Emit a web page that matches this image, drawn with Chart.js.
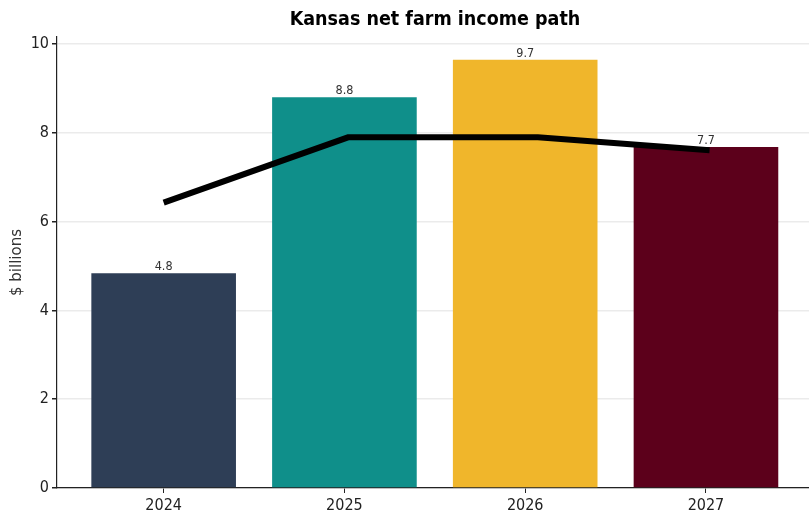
<!DOCTYPE html>
<html>
<head>
<meta charset="utf-8">
<script src="https://cdn.jsdelivr.net/npm/chart.js@4.4.1/dist/chart.umd.min.js"></script>
<style>
  html, body { margin: 0; padding: 0; background: #fff; }
  #wrap { width: 809px; height: 516px; }
</style>
</head>
<body>
<div id="wrap"><canvas id="grafico"></canvas></div>
<script>
// Datos
const anios = ['2024', '2025', '2026', '2027'];
const ingresoNeto = [4.84, 8.8, 9.65, 7.68];
const colores = ['#2e3e56', '#0f8f8a', '#f0b62b', '#5c001b'];
const trayectoriaX = [0, 1.02, 2.07, 3.02];
const trayectoriaY = [6.43, 7.9, 7.9, 7.61];
const ticksY = [0, 2, 4, 6, 8, 10];

const fuenteTicks = '"DejaVu Sans Condensed", "DejaVu Sans", sans-serif';

// Etiquetas de valor encima de cada barra
const etiquetasBarras = {
  id: 'etiquetasBarras',
  afterDatasetsDraw(chart) {
    const ctx = chart.ctx;
    const meta = chart.getDatasetMeta(1);
    ctx.save();
    ctx.font = '12.5px ' + fuenteTicks;
    ctx.fillStyle = '#333';
    ctx.textAlign = 'center';
    ctx.textBaseline = 'bottom';
    meta.data.forEach((barra, i) => {
      ctx.fillText(ingresoNeto[i].toFixed(1), barra.x, barra.y);
    });
    ctx.restore();
  }
};

// Titulo del grafico
const titulo = {
  id: 'titulo',
  afterDraw(chart) {
    const ctx = chart.ctx;
    const area = chart.chartArea;
    ctx.save();
    ctx.font = 'bold 19.5px "DejaVu Sans Condensed"';
    ctx.fillStyle = '#000';
    ctx.textAlign = 'center';
    ctx.textBaseline = 'middle';
    ctx.fillText('Kansas net farm income path', (area.left + area.right) / 2 + 2, 20);
    ctx.restore();
  }
};

const ctx = document.getElementById('grafico').getContext('2d');
new Chart(ctx, {
  data: {
    datasets: [
      {
        type: 'line',
        data: trayectoriaX.map((x, i) => ({ x: x, y: trayectoriaY[i] })),
        borderColor: '#000',
        borderWidth: 6,
        pointRadius: 0,
        fill: false,
        order: 0
      },
      {
        type: 'bar',
        data: anios.map((a, i) => ({ x: i, y: ingresoNeto[i] })),
        backgroundColor: colores,
        barPercentage: 0.8,
        categoryPercentage: 1.0,
        order: 1
      }
    ]
  },
  options: {
    responsive: true,
    maintainAspectRatio: false,
    animation: false,
    layout: { padding: { top: 37, right: 0, left: 0, bottom: 0 } },
    plugins: {
      legend: { display: false },
      tooltip: { enabled: false }
    },
    scales: {
      x: {
        type: 'linear',
        offset: false,
        min: -0.59,
        max: 3.57,
        afterBuildTicks: (eje) => { eje.ticks = anios.map((a, i) => ({ value: i })); },
        afterFit: (eje) => { eje.height = 28; },
        ticks: {
          callback: (v) => anios[v],
          color: '#222',
          font: { family: fuenteTicks, size: 16 },
          padding: 3,
          maxRotation: 0
        },
        grid: { offset: false, drawOnChartArea: false, tickLength: 5, tickColor: '#222' },
        border: { color: '#222', width: 1.2 }
      },
      y: {
        min: 0,
        max: 10.16,
        afterBuildTicks: (eje) => { eje.ticks = ticksY.map(v => ({ value: v })); },
        afterFit: (eje) => { eje.width = 57; },
        ticks: {
          color: '#222',
          font: { family: fuenteTicks, size: 16 },
          padding: 3
        },
        grid: { color: '#ebebeb', lineWidth: 1.5, tickLength: 5, tickColor: '#222' },
        border: { color: '#222', width: 1.2 },
        title: {
          display: true,
          text: '$ billions',
          color: '#333',
          font: { family: 'DejaVu Sans', size: 15 },
          padding: { top: 8, bottom: 0 }
        }
      }
    }
  },
  plugins: [etiquetasBarras, titulo]
});
</script>
</body>
</html>
